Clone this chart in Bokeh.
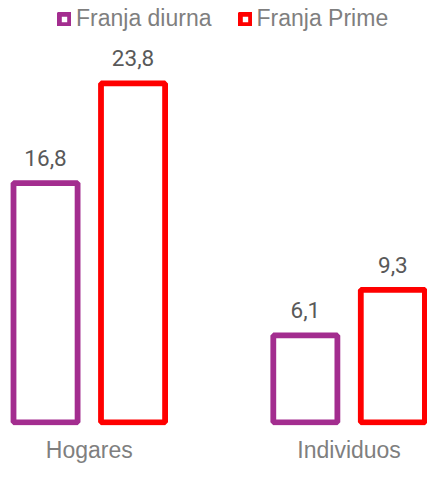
from bokeh.plotting import figure
from bokeh.models import ColumnDataSource, Range1d, FixedTicker, Legend, LegendItem
from bokeh.transform import dodge
from bokeh.core.properties import value
from bokeh.embed import file_html
from bokeh.resources import INLINE

categories = ["Hogares", "Individuos"]
series_names = ["Franja diurna", "Franja Prime"]
diurna = [16.8, 6.1]
prime = [23.8, 9.3]
colors = ["#A32D8F", "#FF0000"]

xs = list(range(len(categories)))
src = ColumnDataSource(dict(
    x=xs,
    diurna=diurna,
    prime=prime,
    diurna_lbl=[f"{v:.1f}".replace(".", ",") for v in diurna],
    prime_lbl=[f"{v:.1f}".replace(".", ",") for v in prime],
))

p = figure(frame_width=427, frame_height=425, output_backend="svg", toolbar_location=None,
           x_range=Range1d(-0.3418, 1.3018), y_range=Range1d(-0.225, 29.62),
           y_axis_location=None, min_border=0, min_border_left=0,
           min_border_right=0, min_border_top=0, min_border_bottom=0)
p.outline_line_color = None
p.grid.visible = False
p.background_fill_color = "white"
p.border_fill_color = "white"

off = 0.1684
bw = 0.2467
lw = 5.8
r1 = p.vbar(x=dodge("x", -off, range=p.x_range), top="diurna", width=bw, bottom=0,
            source=src, fill_color=None, line_color=colors[0], line_width=lw)
r2 = p.vbar(x=dodge("x", off, range=p.x_range), top="prime", width=bw, bottom=0,
            source=src, fill_color=None, line_color=colors[1], line_width=lw)

for fld, o in (("diurna", -off), ("prime", off)):
    p.text(x=dodge("x", o, range=p.x_range), y=fld, text=fld + "_lbl", source=src,
           text_align="center", text_baseline="alphabetic", y_offset=-25,
           text_font=value("Roboto"), text_font_size="22.5px", text_color="#595959")

ax = p.xaxis[0]
ax.ticker = FixedTicker(ticks=xs)
ax.major_label_overrides = {i: c for i, c in zip(xs, categories)}
ax.axis_line_color = None
ax.major_tick_line_color = None
ax.minor_tick_line_color = None
ax.major_tick_out = 0
ax.major_tick_in = 0
ax.minor_tick_out = 0
ax.minor_tick_in = 0
ax.major_label_standoff = 11
ax.major_label_text_font = "Liberation Sans"
ax.major_label_text_font_size = "23px"
ax.major_label_text_color = "#7F7F7F"

legend = Legend(items=[LegendItem(label=series_names[0], renderers=[r1]),
                       LegendItem(label=series_names[1], renderers=[r2])],
                orientation="horizontal", location=(57, 393),
                glyph_width=14, glyph_height=14, label_standoff=5, spacing=26,
                padding=0, margin=0, border_line_color=None,
                background_fill_alpha=0,
                label_text_font="Liberation Sans", label_text_font_size="23px",
                label_text_color="#7F7F7F")
p.add_layout(legend, "center")

open("out.html", "w").write(file_html(p, INLINE))
